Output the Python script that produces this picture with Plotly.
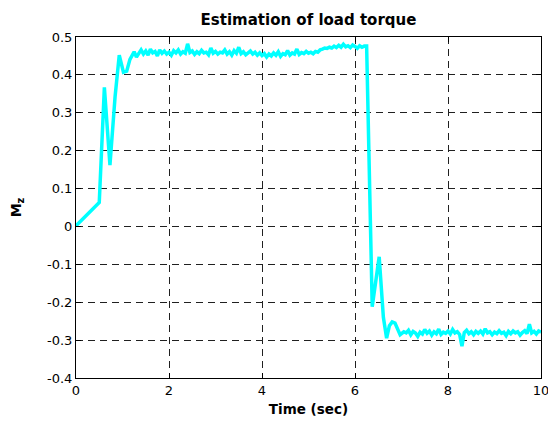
import plotly.graph_objects as go

# Start-up transient: (time, torque estimate)
startup_t = [0.0, 0.1, 0.2, 0.3, 0.4, 0.5, 0.61, 0.73, 0.84, 0.93, 1.02, 1.09, 1.16, 1.23]
startup_v = [0.002, 0.014, 0.026, 0.038, 0.050, 0.063, 0.367, 0.162, 0.342, 0.452,
             0.407, 0.410, 0.441, 0.461]

# First steady load, sampled every 0.05 s from 1.25 s
load1_t0 = 1.25
load1_v = [
    0.461, 0.447, 0.458, 0.466, 0.455, 0.463, 0.452, 0.468, 0.458, 0.462,
    0.450, 0.466, 0.457, 0.463, 0.455, 0.460, 0.452, 0.464, 0.458, 0.466,
    0.455, 0.461, 0.457, 0.482, 0.459, 0.463, 0.454, 0.461, 0.456, 0.465,
    0.458, 0.460, 0.453, 0.471, 0.457, 0.462, 0.455, 0.460, 0.458, 0.466,
    0.455, 0.461, 0.452, 0.464, 0.457, 0.473, 0.456, 0.461, 0.453, 0.459,
    0.463, 0.455, 0.460, 0.452, 0.458, 0.451, 0.456, 0.447, 0.455, 0.450,
    0.458, 0.452, 0.461, 0.449, 0.456, 0.453, 0.464, 0.452, 0.458, 0.455,
    0.468, 0.454, 0.459, 0.456, 0.462, 0.457, 0.460, 0.456, 0.462, 0.460,
    0.466, 0.468, 0.471, 0.470, 0.473, 0.471, 0.476, 0.472, 0.478, 0.473,
    0.481, 0.474, 0.477, 0.472, 0.479, 0.475, 0.470, 0.477, 0.473, 0.476,
]

# Load reversal transient
reversal_t = [6.25, 6.37, 6.52, 6.61, 6.68, 6.74, 6.80, 6.86, 6.92, 6.97]
reversal_v = [0.476, -0.212, -0.080, -0.240, -0.295, -0.262, -0.252, -0.255, -0.270, -0.286]

# Second steady load, sampled every 0.05 s from 7.0 s
load2_t0 = 7.0
load2_v = [
    -0.283, -0.278, -0.281, -0.274, -0.286, -0.277, -0.281, -0.290, -0.279, -0.284,
    -0.272, -0.282, -0.276, -0.287, -0.278, -0.283, -0.271, -0.285, -0.279, -0.282,
    -0.276, -0.284, -0.272, -0.281, -0.278, -0.285, -0.316, -0.280, -0.274, -0.283,
    -0.278, -0.286, -0.277, -0.282, -0.276, -0.284, -0.270, -0.281, -0.278, -0.286,
    -0.279, -0.283, -0.275, -0.282, -0.279, -0.288, -0.277, -0.283, -0.276, -0.281,
    -0.278, -0.287, -0.280, -0.275, -0.283, -0.258, -0.281, -0.277, -0.284, -0.276,
    -0.279,
]
sample_step = 0.05

x_tick_vals = [0, 2, 4, 6, 8, 10]
x_tick_text = ["0", "2", "4", "6", "8", "10"]
y_tick_vals = [-0.4, -0.3, -0.2, -0.1, 0, 0.1, 0.2, 0.3, 0.4, 0.5]
y_tick_text = ["-0.4", "-0.3", "-0.2", "-0.1", "0", "0.1", "0.2", "0.3", "0.4", "0.5"]

t = (startup_t
     + [round(load1_t0 + i * sample_step, 3) for i in range(len(load1_v))]
     + reversal_t
     + [round(load2_t0 + i * sample_step, 3) for i in range(len(load2_v))])
v = startup_v + load1_v + reversal_v + load2_v

font_family = "DejaVu Sans, Arial, Helvetica, sans-serif"

fig = go.Figure(go.Scatter(
    x=t, y=v, mode="lines",
    line=dict(color="#00FFFF", width=3.5),
    showlegend=False,
))

axis_common = dict(
    showline=True, linecolor="black", linewidth=1, mirror="ticks",
    ticks="inside", ticklen=5, tickcolor="black",
    showgrid=True, gridcolor="#202020", gridwidth=1, griddash="7px,5px",
    zeroline=False, ticklabeloverflow="allow", automargin=False,
    tickfont=dict(family=font_family, size=13, color="black"),
)

fig.update_layout(
    width=548, height=421,
    margin=dict(l=76, r=7, t=37, b=43),
    paper_bgcolor="white", plot_bgcolor="white",
    title=dict(
        text="<b>Estimation of load torque</b>",
        font=dict(family=font_family, size=15, color="black"),
        xref="paper", x=0.5, xanchor="center",
        yref="container", y=1 - 20 / 421, yanchor="middle",
    ),
    xaxis=dict(
        range=[0, 10], tickvals=x_tick_vals, ticktext=x_tick_text,
        title=dict(text="<b>Time (sec)</b>", standoff=7,
                   font=dict(family=font_family, size=13.5, color="black")),
        **axis_common,
    ),
    yaxis=dict(
        range=[-0.4, 0.5], tickvals=y_tick_vals, ticktext=y_tick_text,
        title=dict(text="<b>M<sub>z</sub></b>", standoff=22,
                   font=dict(family=font_family, size=14, color="black")),
        **axis_common,
    ),
)

fig.write_html("out.html")
